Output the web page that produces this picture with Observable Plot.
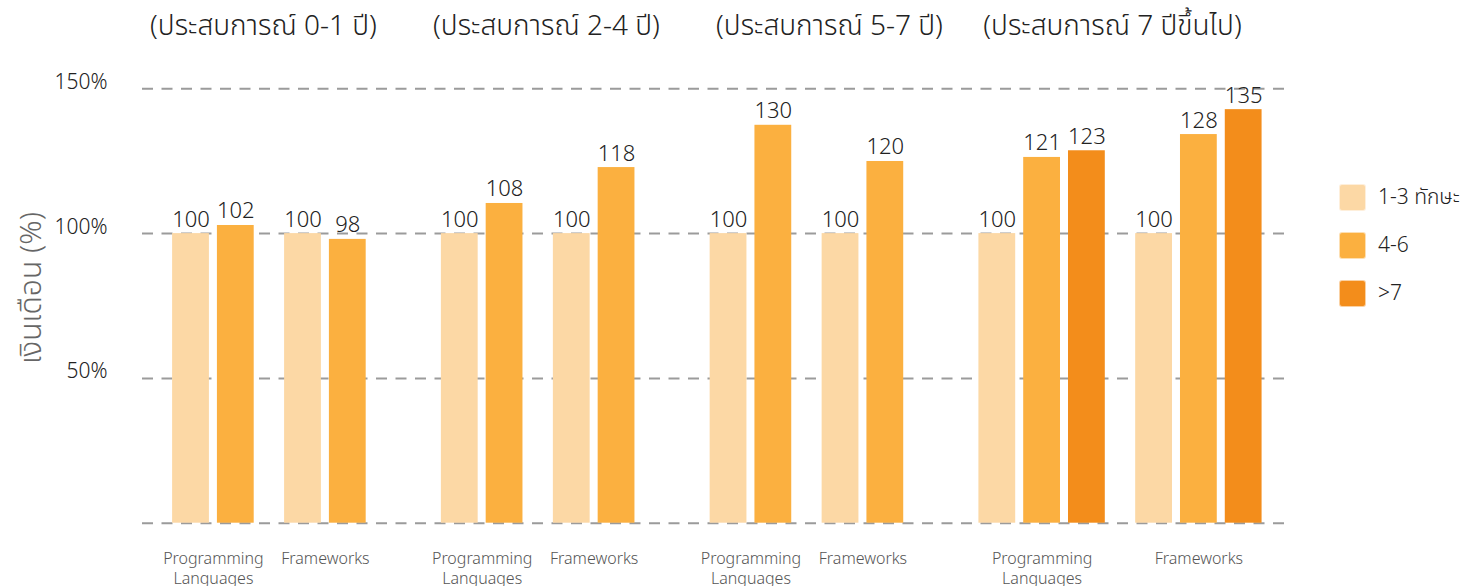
<!DOCTYPE html>
<html>
<head>
<meta charset="utf-8">
<script src="https://cdn.jsdelivr.net/npm/d3@7"></script>
<script src="https://cdn.jsdelivr.net/npm/@observablehq/plot@0.6"></script>
<style>
  html, body { margin: 0; padding: 0; background: #fff; }
  body { font-family: "Noto Sans Thai", "Noto Sans", "DejaVu Sans", sans-serif; font-weight: 300; }
  #wrap { position: relative; width: 1479px; height: 586px; overflow: hidden; }
  #titles { position: absolute; top: 5px; left: 122px; display: flex; }
  #titles div { width: 283px; text-align: center; font-size: 28px; color: #222; white-space: nowrap; font-weight: 300; }
  #ytitle { position: absolute; left: 32px; top: 288px; transform: translate(-50%, -50%) rotate(-90deg);
            font-size: 30px; color: #666; white-space: nowrap; font-weight: 300; }
  #legend { position: absolute; left: 1339px; top: 184px; }
  .item { display: flex; align-items: center; height: 27px; margin-bottom: 21px; }
  .sw { width: 25px; height: 25px; border-radius: 3px; border: 1px solid rgba(255,255,255,0.6); margin-right: 12px; }
  .lab { font-size: 21px; color: #222; white-space: nowrap; font-weight: 300; }
  svg { position: absolute; left: 0; top: 0; }
</style>
</head>
<body>
<div id="wrap"></div>
<script>
// ---- data ----
const groups = ["(ประสบการณ์ 0-1 ปี)", "(ประสบการณ์ 2-4 ปี)", "(ประสบการณ์ 5-7 ปี)", "(ประสบการณ์ 7 ปีขึ้นไป)"];
const categories = ["Programming\nLanguages", "Frameworks"];
const skills = ["1-3 ทักษะ", "4-6", ">7"];
// bar heights as drawn in the picture (%)
const plHeights = [[100, 102.8], [100, 110.4], [100, 137.4], [100, 126.3, 128.6]];
const fwHeights = [[100, 98.0], [100, 122.8], [100, 124.9], [100, 134.2, 142.8]];
// value labels printed above the bars
const plLabels = [[100, 102], [100, 108], [100, 130], [100, 121, 123]];
const fwLabels = [[100, 98], [100, 118], [100, 120], [100, 128, 135]];
const yTicks = [50, 100, 150];
const gridValues = [0, 50, 100, 150];
const colors = ["#FCD8A5", "#FBB040", "#F38D1B"];

// ---- build table (slot positions derived from structure) ----
const catGap = 0.5, groupGap = 1.0;
const rows = [], catRows = [];
let u = 0;
groups.forEach((g, gi) => {
  [plHeights, fwHeights].forEach((H, ci) => {
    const L = ci === 0 ? plLabels : fwLabels;
    const start = u;
    H[gi].forEach((v, si) => {
      rows.push({group: g, category: categories[ci], skill: skills[si], value: v, label: L[gi][si], u});
      u += 1;
    });
    catRows.push({group: g, category: categories[ci], u: (start + u - 1) / 2});
    u += catGap;
  });
  u += groupGap;
});

const chart = Plot.plot({
  width: 1479,
  height: 586,
  marginLeft: 142,
  marginRight: 187,
  marginTop: 88.3,
  marginBottom: 63.3,
  style: {fontFamily: '"Noto Sans Thai", "Noto Sans", "DejaVu Sans", sans-serif', fontWeight: 300, overflow: "visible"},
  x: {domain: [-1.083, 24.59], axis: null},
  y: {domain: [0, 150], axis: null},
  color: {domain: skills, range: colors},
  marks: [
    Plot.ruleY(gridValues, {stroke: "#9b9b9b", strokeWidth: 2, strokeDasharray: "11,8.5"}),
    Plot.rectY(rows, {x1: d => d.u - 0.5, x2: d => d.u + 0.5, y: "value", fill: "skill", insetLeft: 4, insetRight: 4}),
    Plot.text(rows, {x: "u", y: "value", text: d => String(d.label), dy: -7, lineAnchor: "bottom", fontSize: 22, fill: "#222"}),
    Plot.text(catRows, {x: "u", y: () => 0, text: "category", dy: 27, lineAnchor: "top", fontSize: 16, fill: "#555", lineHeight: 1.25}),
    Plot.text(yTicks, {y: d => d, text: d => d + "%", frameAnchor: "left", textAnchor: "end", dx: -35, lineAnchor: "bottom", fontSize: 21, fill: "#222"})
  ]
});

const wrap = document.getElementById("wrap");
wrap.appendChild(chart);

const titles = document.createElement("div");
titles.id = "titles";
groups.forEach(g => { const d = document.createElement("div"); d.textContent = g; titles.appendChild(d); });
wrap.appendChild(titles);

const yt = document.createElement("div");
yt.id = "ytitle";
yt.textContent = "เงินเดือน (%)";
wrap.appendChild(yt);

const color = chart.scale("color");
const legend = document.createElement("div");
legend.id = "legend";
color.domain.forEach((k, i) => {
  const it = document.createElement("div"); it.className = "item";
  const sw = document.createElement("div"); sw.className = "sw"; sw.style.background = color.range[i];
  const lb = document.createElement("div"); lb.className = "lab"; lb.textContent = k;
  it.appendChild(sw); it.appendChild(lb); legend.appendChild(it);
});
wrap.appendChild(legend);
</script>
</body>
</html>
